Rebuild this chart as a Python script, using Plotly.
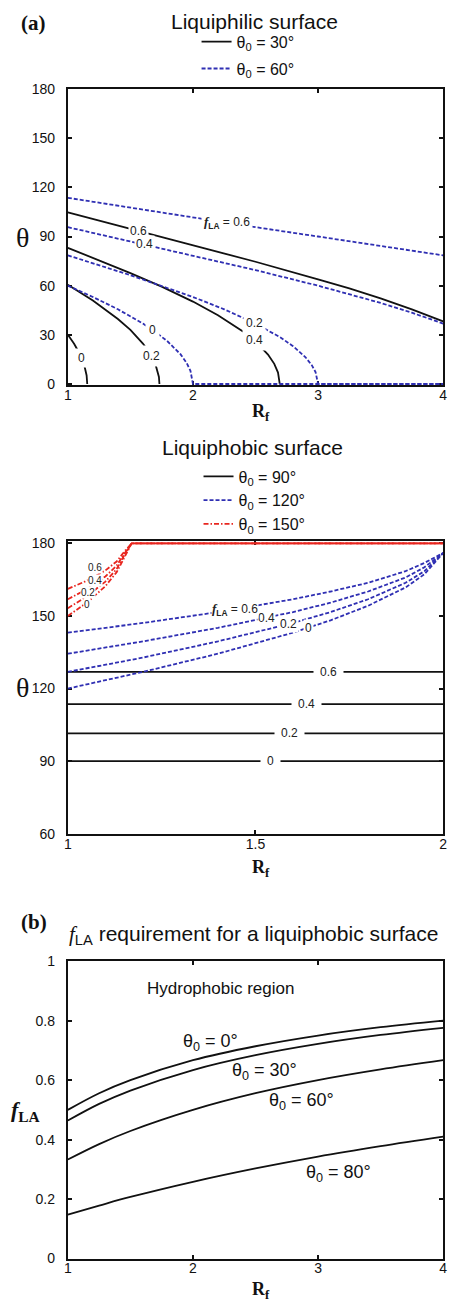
import numpy as np
import plotly.graph_objects as go

W, H = 455, 1310
SANS = "Liberation Sans, Arial, sans-serif"
SERIF = "Liberation Serif, Times New Roman, serif"
BLACK = "#111111"
BLUE = "#2f2fb3"
RED = "#e8261f"

# ---------------- (a) liquiphilic surface: theta vs Rf ----------------
# theta0 = 30 deg (solid black), one curve per f_LA
phil30_rf_f0 = [1.0, 1.05, 1.10, 1.13, 1.15, 1.153, 1.155]
phil30_th_f0 = [30.0, 24.6, 17.7, 11.9, 5.2, 3.1, 0.0]
phil30_rf_f2 = [1.0, 1.2, 1.4, 1.5, 1.6, 1.65, 1.7, 1.72, 1.728, 1.732]
phil30_th_f2 = [60.5, 50.9, 39.7, 33.0, 24.7, 19.4, 12.1, 7.4, 4.3, 0.0]
phil30_rf_f4 = [1.0, 1.25, 1.5, 1.75, 2.0, 2.2, 2.4, 2.5, 2.6, 2.65, 2.68, 2.694]
phil30_th_f4 = [83.1, 75.6, 67.7, 59.4, 50.3, 42.0, 32.1, 26.0, 18.0, 12.3, 7.0, 0.0]
phil30_rf_f6 = [1.0, 1.5, 2.0, 2.5, 3.0, 3.25, 3.5, 3.75, 4.0]
phil30_th_f6 = [104.7, 94.6, 84.7, 74.6, 63.9, 58.3, 52.2, 45.6, 38.2]

# theta0 = 60 deg (dashed blue)
phil60_rf_f0 = [1.0, 1.2, 1.4, 1.6, 1.7, 1.8, 1.9, 1.95, 1.98, 2.0, 4.0]
phil60_th_f0 = [60.0, 53.1, 45.6, 36.9, 31.8, 25.8, 18.2, 12.8, 8.1, 0.0, 0.0]
phil60_rf_f2 = [1.0, 1.5, 2.0, 2.25, 2.5, 2.7, 2.8, 2.9, 2.95, 2.98, 3.0, 4.0]
phil60_th_f2 = [78.5, 66.4, 53.1, 45.6, 36.9, 28.4, 23.1, 16.3, 11.5, 7.3, 0.0, 0.0]
phil60_rf_f4 = [1.0, 1.5, 2.0, 2.25, 2.5, 3.0, 3.5, 3.75, 4.0]
phil60_th_f4 = [95.7, 87.1, 78.5, 74.0, 69.5, 60.0, 49.5, 43.5, 36.9]
phil60_rf_f6 = [1.0, 1.5, 2.0, 2.5, 3.0, 3.5, 4.0]
phil60_th_f6 = [113.6, 107.5, 101.5, 95.7, 90.0, 84.3, 78.5]

# ---------------- liquiphobic surface: theta vs Rf ----------------
# theta0 = 90 deg (solid black)
phob90_rf = [1.0, 2.0]
phob90_th_f0 = [90.0, 90.0]
phob90_th_f2 = [101.5, 101.5]
phob90_th_f4 = [113.6, 113.6]
phob90_th_f6 = [126.9, 126.9]

# theta0 = 120 deg (dashed blue)
phob120_rf = [1.0, 1.2, 1.4, 1.6, 1.7, 1.8, 1.9, 1.95, 2.0]
phob120_th_f0 = [120.0, 126.9, 134.4, 143.1, 148.2, 154.2, 161.8, 167.2, 176.0]
phob120_th_f2 = [126.9, 132.8, 139.5, 147.1, 151.6, 156.9, 163.7, 168.5, 176.0]
phob120_th_f4 = [134.4, 139.5, 145.1, 151.6, 155.5, 160.1, 165.9, 170.1, 176.0]
phob120_th_f6 = [143.1, 147.1, 151.6, 156.9, 160.1, 163.7, 168.5, 171.9, 176.0]

# theta0 = 150 deg (dash-dot red)
phob150_rf = [1.0, 1.05, 1.1, 1.13, 1.15, 1.17, 2.0]
phob150_th_f0 = [150.0, 155.4, 162.3, 168.1, 174.0, 180.0, 180.0]
phob150_th_f2 = [153.2, 158.0, 164.2, 169.4, 175.0, 180.0, 180.0]
phob150_th_f4 = [156.9, 161.0, 166.3, 170.8, 175.6, 180.0, 180.0]
phob150_th_f6 = [161.2, 164.5, 168.8, 172.5, 176.5, 180.0, 180.0]

# label spots for the theta0 = 150 contours (Rf, theta), stacked at the left
phob150_lbl_text = ["0", "0.2", "0.4", "0.6"]
phob150_lbl_rf = [1.052, 1.055, 1.073, 1.073]
phob150_lbl_th = [154.7, 159.7, 164.8, 169.9]

# ---------------- (b) f_LA required for a liquiphobic surface ----------------
req_rf = [1.0, 1.25, 1.5, 2.0, 2.5, 3.0, 3.5, 4.0]
req_f_th0 = [0.500, 0.556, 0.600, 0.667, 0.714, 0.750, 0.778, 0.800]
req_f_th30 = [0.464, 0.520, 0.565, 0.634, 0.684, 0.722, 0.752, 0.776]
req_f_th60 = [0.333, 0.385, 0.429, 0.500, 0.556, 0.600, 0.636, 0.667]
req_f_th80 = [0.148, 0.178, 0.207, 0.258, 0.303, 0.343, 0.378, 0.410]

fig = go.Figure()

BLUE_DASH = "4px,2px"
RED_DASH = "5px,2px,1.5px,2px"


def curve(x, y, color, dash, xa, ya, name=None, legend=None, group=None, shape="linear"):
    fig.add_trace(go.Scatter(
        x=x, y=y, mode="lines", xaxis=xa, yaxis=ya,
        line=dict(color=color, width=1.8, dash=dash, shape=shape),
        name=name, showlegend=name is not None,
        legend=legend, legendgroup=group, hoverinfo="skip"))


# panel (a) liquiphilic
curve(phil30_rf_f0, phil30_th_f0, BLACK, "solid", "x", "y",
      name="θ<sub>0</sub> = 30°", legend="legend", group="a30")
curve(phil30_rf_f2, phil30_th_f2, BLACK, "solid", "x", "y", group="a30")
curve(phil30_rf_f4, phil30_th_f4, BLACK, "solid", "x", "y", group="a30")
curve(phil30_rf_f6, phil30_th_f6, BLACK, "solid", "x", "y", group="a30")
curve(phil60_rf_f0, phil60_th_f0, BLUE, BLUE_DASH, "x", "y",
      name="θ<sub>0</sub> = 60°", legend="legend", group="a60")
curve(phil60_rf_f2, phil60_th_f2, BLUE, BLUE_DASH, "x", "y", group="a60")
curve(phil60_rf_f4, phil60_th_f4, BLUE, BLUE_DASH, "x", "y", group="a60")
curve(phil60_rf_f6, phil60_th_f6, BLUE, BLUE_DASH, "x", "y", group="a60")

# panel liquiphobic
curve(phob90_rf, phob90_th_f0, BLACK, "solid", "x2", "y2",
      name="θ<sub>0</sub> = 90°", legend="legend2", group="b90")
for th in (phob90_th_f2, phob90_th_f4, phob90_th_f6):
    curve(phob90_rf, th, BLACK, "solid", "x2", "y2", group="b90")
curve(phob120_rf, phob120_th_f0, BLUE, BLUE_DASH, "x2", "y2",
      name="θ<sub>0</sub> = 120°", legend="legend2", group="b120")
for th in (phob120_th_f2, phob120_th_f4, phob120_th_f6):
    curve(phob120_rf, th, BLUE, BLUE_DASH, "x2", "y2", group="b120")
curve(phob150_rf, phob150_th_f0, RED, RED_DASH, "x2", "y2",
      name="θ<sub>0</sub> = 150°", legend="legend2", group="b150")
for th in (phob150_th_f2, phob150_th_f4, phob150_th_f6):
    curve(phob150_rf, th, RED, RED_DASH, "x2", "y2", group="b150")

# panel (b)
for f in (req_f_th0, req_f_th30, req_f_th60, req_f_th80):
    curve(req_rf, f, BLACK, "solid", "x3", "y3", shape="spline")

# ---------------- axes ----------------
XDOM = [65 / W, 447 / W]


def ydom(top, bottom):
    return [1 - bottom / H, 1 - top / H]


axis_common = dict(
    showline=True, linecolor=BLACK, linewidth=2, mirror="ticks",
    ticks="inside", ticklen=4, tickwidth=1.5, tickcolor=BLACK,
    showgrid=False, zeroline=False, layer="below traces",
    tickfont=dict(family=SANS, size=14, color=BLACK),
)
xa_common = dict(axis_common, ticklabelstandoff=-4)
ya_common = dict(axis_common, ticklabelstandoff=8)

fig.update_layout(
    xaxis=dict(domain=XDOM, anchor="y", range=[1, 4], tickvals=[1, 2, 3, 4], **xa_common),
    yaxis=dict(domain=ydom(82, 382), anchor="x", range=[-0.8, 180],
               tickvals=[0, 30, 60, 90, 120, 150, 180], **ya_common),
    xaxis2=dict(domain=XDOM, anchor="y2", range=[1, 2], tickvals=[1, 1.5, 2],
                ticktext=["1", "1.5", "2"], **xa_common),
    yaxis2=dict(domain=ydom(540, 836), anchor="x2", range=[60, 180.8],
                tickvals=[60, 90, 120, 150, 180], **ya_common),
    xaxis3=dict(domain=XDOM, anchor="y3", range=[1, 4], tickvals=[1, 2, 3, 4], **xa_common),
    yaxis3=dict(domain=ydom(965, 1266), anchor="x3", range=[0, 1],
                tickvals=[0, 0.2, 0.4, 0.6, 0.8, 1],
                ticktext=["0", "0.2", "0.4", "0.6", "0.8", "1"], **ya_common),
)

# ---------------- legends ----------------
legend_common = dict(
    bgcolor="rgba(0,0,0,0)", borderwidth=0, xanchor="left", yanchor="top",
    orientation="v", itemclick=False, itemdoubleclick=False,
)
fig.update_layout(
    legend=dict(x=196 / W, y=1 - 17 / H, font=dict(family=SANS, size=16, color=BLACK),
                tracegroupgap=3, **legend_common),
    legend2=dict(x=198 / W, y=1 - 457 / H, font=dict(family=SANS, size=16, color=BLACK),
                 tracegroupgap=0, **legend_common),
)

# ---------------- annotations ----------------
ann = []


def paper_text(text, px, py, size, family=SANS, xanchor="center"):
    ann.append(dict(text=text, x=px / W, y=1 - py / H, xref="paper", yref="paper",
                    xanchor=xanchor, yanchor="middle", showarrow=False,
                    font=dict(family=family, size=size, color=BLACK)))


def label_at(text, xa, ya, x, y, pad=2, size=12):
    ann.append(dict(text=text, x=x, y=y, xref=xa, yref=ya, showarrow=False,
                    xanchor="center", yanchor="middle", bgcolor="white", borderpad=pad,
                    font=dict(family=SANS, size=size, color="#222222")))


def curve_label(text, xa, ya, x, xs, ys, pad=2, size=12):
    label_at(text, xa, ya, x, float(np.interp(x, xs, ys)), pad, size)


F_LA = ("<span style='font-family:Liberation Serif;font-size:13px'><b><i>f</i></b></span>"
        "<sub><b>LA</b></sub>")

# panel titles and tags
paper_text("<b>(a)</b>", 30, 15, 21, SERIF)
paper_text("Liquiphilic surface", 255, 14, 21)
paper_text("Liquiphobic surface", 253, 445, 21)
paper_text("<b>(b)</b>", 31, 925, 21, SERIF)
paper_text("<span style='font-family:Liberation Serif'><i>f</i></span><sub>LA</sub>"
           " requirement for a liquiphobic surface", 254, 938, 21)

# axis titles
paper_text("θ", 19, 232, 28, SERIF)
paper_text("θ", 19, 688, 28, SERIF)
paper_text("<b>R</b><sub><b>f</b></sub>", 262, 410, 18, SERIF)
paper_text("<b>R</b><sub><b>f</b></sub>", 262, 871, 18, SERIF)
paper_text("<b>R</b><sub><b>f</b></sub>", 262, 1298, 18, SERIF)
paper_text("<b><i>f</i></b><sub><b>LA</b></sub>", 22, 1117, 22, SERIF)

# contour-style labels, panel (a)
curve_label("0", "x", "y", 1.11, phil30_rf_f0, phil30_th_f0, pad=2)
curve_label("0.2", "x", "y", 1.665, phil30_rf_f2, phil30_th_f2, pad=3)
curve_label("0.4", "x", "y", 2.49, phil30_rf_f4, phil30_th_f4, pad=3)
curve_label("0.6", "x", "y", 1.565, phil30_rf_f6, phil30_th_f6, pad=1)
curve_label("0", "x", "y", 1.68, phil60_rf_f0, phil60_th_f0, pad=3)
curve_label("0.2", "x", "y", 2.49, phil60_rf_f2, phil60_th_f2, pad=2)
curve_label("0.4", "x", "y", 1.61, phil60_rf_f4, phil60_th_f4, pad=1)
curve_label(F_LA + " = 0.6", "x", "y", 2.27, phil60_rf_f6, phil60_th_f6, pad=2)

# contour-style labels, liquiphobic panel
curve_label("0", "x2", "y2", 1.54, phob90_rf, phob90_th_f0, pad=6)
curve_label("0.2", "x2", "y2", 1.59, phob90_rf, phob90_th_f2, pad=6)
curve_label("0.4", "x2", "y2", 1.636, phob90_rf, phob90_th_f4, pad=6)
curve_label("0.6", "x2", "y2", 1.694, phob90_rf, phob90_th_f6, pad=6)
curve_label("0", "x2", "y2", 1.641, phob120_rf, phob120_th_f0, pad=1)
curve_label("0.2", "x2", "y2", 1.587, phob120_rf, phob120_th_f2, pad=1)
curve_label("0.4", "x2", "y2", 1.53, phob120_rf, phob120_th_f4, pad=0)
curve_label(F_LA + " = 0.6", "x2", "y2", 1.445, phob120_rf, phob120_th_f6, pad=0)
for t, x, y in zip(phob150_lbl_text, phob150_lbl_rf, phob150_lbl_th):
    label_at(t, "x2", "y2", x, y, pad=0, size=10)

# panel (b) curve labels
for text, x, y in (("θ<sub>0</sub> = 0°", 2.14, 0.728),
                   ("θ<sub>0</sub> = 30°", 2.57, 0.628),
                   ("θ<sub>0</sub> = 60°", 2.87, 0.528),
                   ("θ<sub>0</sub> = 80°", 3.16, 0.286)):
    ann.append(dict(text=text, x=x, y=y, xref="x3", yref="y3", showarrow=False,
                    xanchor="center", yanchor="middle",
                    font=dict(family=SANS, size=18, color=BLACK)))
ann.append(dict(text="Hydrophobic region", x=2.22, y=0.907, xref="x3", yref="y3",
                showarrow=False, xanchor="center", yanchor="middle",
                font=dict(family=SANS, size=17, color=BLACK)))

fig.update_layout(
    annotations=ann,
    width=W, height=H,
    margin=dict(l=0, r=0, t=0, b=0),
    paper_bgcolor="white", plot_bgcolor="white",
    hovermode=False,
)

fig.write_html("out.html", config={"displayModeBar": False})
